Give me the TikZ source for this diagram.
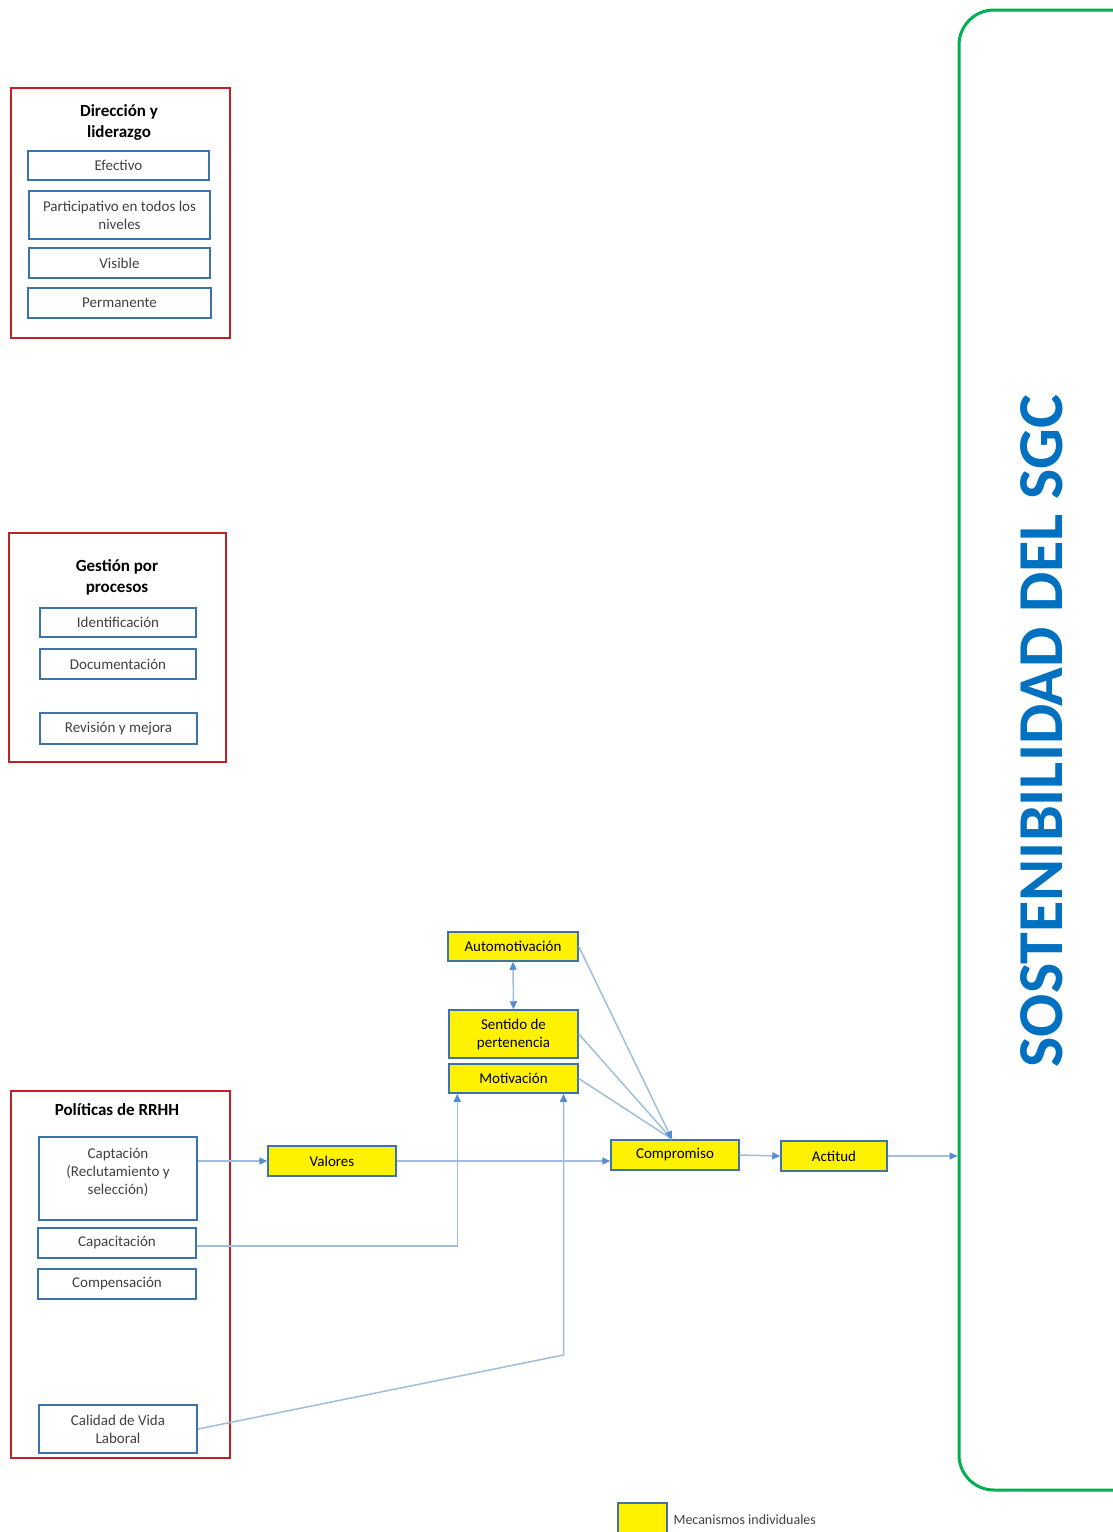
\documentclass[tikz,border=0pt]{standalone}
\usepackage{fontspec}
\setmainfont{Carlito}
\usetikzlibrary{arrows.meta}
\definecolor{rojo}{RGB}{192,32,38}
\definecolor{azulcaja}{RGB}{60,115,170}
\definecolor{azullinea}{RGB}{160,190,220}
\definecolor{azulpunta}{RGB}{85,140,205}
\definecolor{verde}{RGB}{0,176,80}
\definecolor{azulsgc}{RGB}{0,112,192}
\definecolor{gristexto}{RGB}{64,64,64}

\begin{document}
\begin{tikzpicture}[x=1pt,y=-1pt,
  marco/.style={draw=rojo,line width=2.5pt,inner sep=0pt},
  titulo/.style={align=center,font=\fontsize{17}{21}\selectfont\bfseries},
  item/.style={draw=azulcaja,line width=2pt,align=center,inner sep=0pt,text=gristexto,font=\fontsize{15}{18}\selectfont},
  meca/.style={draw=azulcaja,fill=yellow,line width=1.5pt,align=center,inner sep=0pt,font=\fontsize{15}{18}\selectfont},
  linea/.style={draw=azullinea,line width=1.5pt},
  flecha/.style={linea,-{Triangle[length=8pt,width=7pt,color=azulpunta]}},
  doble/.style={linea,{Triangle[length=8pt,width=7pt,color=azulpunta]}-{Triangle[length=8pt,width=7pt,color=azulpunta]}}]
\useasboundingbox (0,0) rectangle (1113,1532);

% Direccion y liderazgo
\node[marco,minimum width=219pt,minimum height=250pt] (direccion) at (120.5,213) {};
\node[titulo] (tdireccion) at (119,122) {Dirección y\\liderazgo};
\node[item,minimum width=181pt,minimum height=29pt] (efectivo) at (118.5,165.5) {Efectivo};
\node[item,minimum width=181pt,minimum height=48pt] (participativo) at (119.5,215) {Participativo en todos los\\niveles};
\node[item,minimum width=181pt,minimum height=30pt] (visible) at (119.5,263) {Visible};
\node[item,minimum width=183pt,minimum height=30pt] (permanente) at (119.5,303) {Permanente};

% Gestion por procesos
\node[marco,minimum width=217pt,minimum height=229pt] (gestion) at (117.5,647.5) {};
\node[titulo] (tgestion) at (117,577) {Gestión por\\procesos};
\node[item,minimum width=156pt,minimum height=29pt] (identificacion) at (118,622.5) {Identificación};
\node[item,minimum width=156pt,minimum height=30pt] (documentacion) at (118,664) {Documentación};
\node[item,minimum width=157pt,minimum height=31pt] (revision) at (118.5,728.5) {Revisión y mejora};

% Politicas de RRHH
\node[marco,minimum width=219pt,minimum height=367pt] (politicas) at (120.5,1274.5) {};
\node[titulo] (tpoliticas) at (117,1110) {Políticas de RRHH};
\node[item,minimum width=158pt,minimum height=83pt] (captacion) at (118,1178.5) {Captación\\(Reclutamiento y\\selección)\\[-3pt]};
\node[item,minimum width=158pt,minimum height=30pt] (capacitacion) at (117,1243) {Capacitación};
\node[item,minimum width=158pt,minimum height=30pt] (compensacion) at (117,1284) {Compensación};
\node[item,minimum width=158pt,minimum height=48pt] (calidad) at (118,1429) {Calidad de Vida\\Laboral};

% mecanismos individuales
\node[meca,minimum width=130pt,minimum height=29pt] (automotivacion) at (513,946.5) {Automotivación};
\node[meca,minimum width=129pt,minimum height=48pt] (sentido) at (513.5,1034) {Sentido de\\pertenencia};
\node[meca,minimum width=129pt,minimum height=29pt] (motivacion) at (513.5,1078.5) {Motivación};
\node[meca,minimum width=128pt,minimum height=30pt] (valores) at (332,1161) {Valores};
\node[meca,minimum width=128pt,minimum height=30pt] (compromiso) at (675,1155) {Compromiso};
\node[meca,minimum width=106pt,minimum height=30pt] (actitud) at (834,1156) {Actitud};

% sostenibilidad
\node[draw=verde,line width=3pt,rounded corners=35pt,minimum width=192pt,minimum height=1480pt] (sostenibilidad) at (1055,750) {};
\node[rotate=90,text=azulsgc,font=\fontsize{64}{64}\selectfont\bfseries] (tsgc) at (1042,731) {SOSTENIBILIDAD DEL SGC};

% leyenda
\node[meca,minimum width=49pt,minimum height=34pt] (leyenda) at (642.5,1520) {};
\node[anchor=west,text=gristexto,font=\fontsize{14}{17}\selectfont] (tleyenda) at (670,1520) {Mecanismos individuales};

% conexiones
\coordinate (codo) at (563.5,1355);
\coordinate (llegada) at ([xshift=-3pt]compromiso.north);
\draw[flecha] (captacion.east |- valores.west) -- (valores.west);
\draw[flecha] (valores.east) -- (valores.east -| compromiso.west);
\draw[flecha] ([yshift=-3pt]capacitacion.east) -| ([xshift=9pt]motivacion.south west);
\draw[flecha] (calidad.east) -- (codo) -- (codo |- motivacion.south);
\draw[doble] (automotivacion.south) -- (sentido.north);
\draw[linea] (sentido.east) -- (llegada);
\draw[linea] (motivacion.east) -- (llegada);
\draw[flecha] (automotivacion.east) -- (llegada);
\draw[flecha] (compromiso.east) -- (actitud.west);
\draw[flecha] (actitud.east) -- (actitud.east -| sostenibilidad.west);
\end{tikzpicture}
\end{document}
